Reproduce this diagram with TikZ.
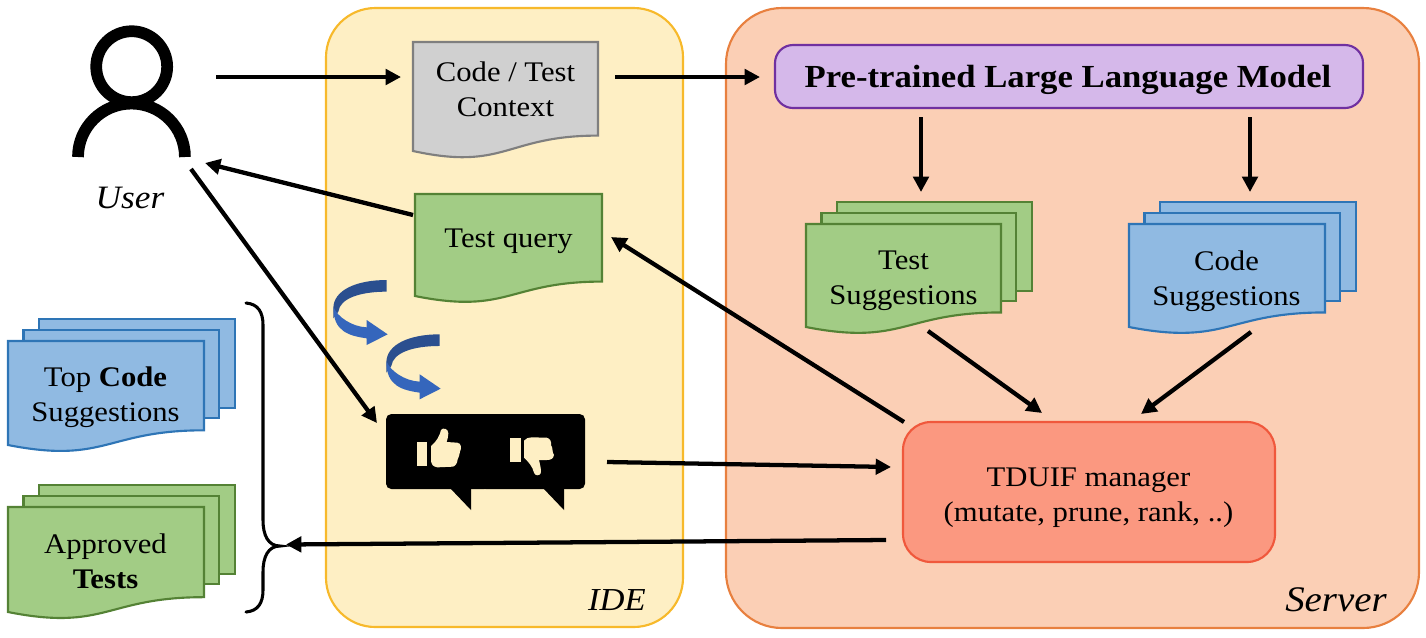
\documentclass[tikz,border=0pt]{standalone}
\usepackage{fontspec}
\setmainfont[FakeStretch=1.08]{Liberation Serif}
\usetikzlibrary{arrows.meta}
\definecolor{idefill}{HTML}{FEEFC4}
\definecolor{ideline}{HTML}{F7B92B}
\definecolor{srvfill}{HTML}{FBCFB5}
\definecolor{srvline}{HTML}{E8803F}
\definecolor{llmfill}{HTML}{D5B8EA}
\definecolor{llmline}{HTML}{7030A0}
\definecolor{mgrfill}{HTML}{FB9880}
\definecolor{mgrline}{HTML}{F0583C}
\definecolor{grnfill}{HTML}{A2CC85}
\definecolor{grnline}{HTML}{548235}
\definecolor{blufill}{HTML}{90BAE2}
\definecolor{bluline}{HTML}{2E75B6}
\definecolor{gryfill}{HTML}{D0D0D0}
\definecolor{gryline}{HTML}{7F7F7F}
\definecolor{arrdark}{HTML}{2B4F8F}
\definecolor{arrlight}{HTML}{3566BC}
\tikzset{
  x=0.75pt,y=-0.75pt,
  txt/.style={font=\fontsize{21.3pt}{26.25pt}\selectfont,align=center,inner sep=0pt,text=black},
  ital/.style={font=\fontsize{27pt}{30pt}\selectfont\itshape,inner sep=0pt,text=black},
  arr/.style={draw=black,line width=3.2pt,-{Triangle[length=11.5pt,width=11.5pt]}},
  hit/.style={inner sep=0pt,outer sep=0pt},
  greendoc/.style={fill=grnfill,draw=grnline},
  bluedoc/.style={fill=blufill,draw=bluline},
  greydoc/.style={fill=gryfill,draw=gryline},
  docline/.style={line width=1.6pt,line join=miter},
}
% #1 style, #2 x1, #3 y1, #4 x2, #5 y2 (lowest edge of the left side)
\newcommand\docpath[5]{%
  \pgfmathsetmacro\wdd{#4-#2}\pgfmathsetmacro\hgg{(#5-#3)/0.934}%
  \path[#1,docline] (#2,#3) -- (#4,#3) -- (#4,#3+0.802*\hgg)
    .. controls (#2+0.5*\wdd,#3+0.802*\hgg) and (#2+0.5*\wdd,#3+1.107*\hgg) .. (#2,#5) -- cycle;}
% a stack of three documents
\newcommand\docstack[5]{%
  \path[#1,docline] (#2+31,#3-22) rectangle (#4+31,#3+67);
  \path[#1,docline] (#2+15.5,#3-11) rectangle (#4+15,#3+77);
  \docpath{#1}{#2}{#3}{#4}{#5}}
% named frame without text that connectors refer to
\newcommand\framenode[5]{%
  \pgfmathsetmacro\cxx{(#2+#4)/2}\pgfmathsetmacro\cyy{(#3+#5)/2}%
  \pgfmathsetlengthmacro\wdd{(#4-#2)*0.75pt}\pgfmathsetlengthmacro\hgg{(#5-#3)*0.75pt}%
  \node[hit,minimum width=\wdd,minimum height=\hgg] (#1) at (\cxx,\cyy) {};}
\newcommand\curvedarrow[2]{%
  \begin{scope}[shift={(#1,#2)},x=0.25pt,y=-0.25pt]
    \fill[arrdark] (200,30) .. controls (110,30) and (40,60) .. (40,115) -- (40,145) -- (55,125)
      .. controls (60,85) and (120,65) .. (200,65) -- cycle;
    \fill[arrlight] (41,112) .. controls (52,140) and (95,170) .. (140,172) -- (140,150) -- (203,193)
      -- (140,225) -- (140,205) .. controls (90,198) and (38,185) .. (41,112) -- cycle;
  \end{scope}}
\begin{document}
\begin{tikzpicture}
\useasboundingbox (0,0) rectangle (1426,637);
% containers
\node[hit,draw=ideline,fill=idefill,line width=1.6pt,rounded corners=37pt,minimum width=267.75pt,minimum height=464.25pt] (ide) at (504.5,317.5) {};
\node[hit,draw=srvline,fill=srvfill,line width=1.6pt,rounded corners=42pt,minimum width=519.75pt,minimum height=465pt] (server) at (1072.5,318) {};
\node[ital,font=\fontsize{24pt}{30pt}\selectfont\itshape] (idelabel) at (617,600) {IDE};
\node[ital] (serverlabel) at (1336,600) {Server};
% person
\framenode{person}{72}{26}{191}{157}
\draw[line width=8.8pt] (131.7,66.7) circle[radius=26.6pt];
\draw[line width=8.8pt] (78,157) arc[start angle=180,end angle=0,radius=40.1pt];
\node[ital,font=\fontsize{24.5pt}{30pt}\selectfont\itshape] (user) at (130,198) {User};
% documents
\docpath{greydoc}{413}{42}{598}{151}
\framenode{ctx}{413}{42}{598}{157}
\node[txt] (ctxtext) at (505.5,89) {Code / Test\\Context};
\docpath{greendoc}{415}{194}{602}{296}
\framenode{query}{415}{194}{602}{302}
\node[txt] (querytext) at (508.5,241) {Test query};
\docstack{greendoc}{806}{224}{1001}{327}
\framenode{tests}{806}{202}{1032}{332}
\node[txt] (teststext) at (903.5,281) {Test\\Suggestions};
\docstack{bluedoc}{1129}{224}{1325}{327}
\framenode{codes}{1129}{202}{1356}{332}
\node[txt] (codestext) at (1226.5,281) {Code\\Suggestions};
\docstack{bluedoc}{8}{341}{204}{445}
\framenode{topcode}{8}{319}{235}{450}
\node[txt] (topcodetext) at (105.5,397) {Top \textbf{Code}\\Suggestions};
\docstack{greendoc}{8}{507}{204}{612}
\framenode{approved}{8}{485}{235}{617}
\node[txt] (approvedtext) at (105.5,561) {Approved\\\textbf{Tests}};
% model and manager
\node[hit,draw=llmline,fill=llmfill,line width=1.6pt,rounded corners=13.5pt,minimum width=441pt,minimum height=47.25pt] (llm) at (1069,76.5) {};
\node[font=\fontsize{24.1pt}{26pt}\selectfont\bfseries,inner sep=0pt] (llmtext) at (1068,80) {Pre-trained Large Language Model};
\node[hit,draw=mgrline,fill=mgrfill,line width=1.6pt,rounded corners=21pt,minimum width=279pt,minimum height=105pt] (mgr) at (1089,492) {};
\node[txt] (mgrtext) at (1088.5,498) {TDUIF manager\\(mutate, prune, rank, ..)};
% feedback bubbles
\framenode{thumbs}{386}{414}{585}{510}
\fill[black,rounded corners=4pt] (386,414) rectangle (490,489);
\fill[black,rounded corners=4pt] (480,414) rectangle (585,489);
\fill[black] (450,488) -- (471,488) -- (471,510) -- cycle;
\fill[black] (543,488) -- (564,488) -- (564,510) -- cycle;
\begin{scope}[shift={(320,270)},x=0.25pt,y=-0.25pt]
  \fill[idefill] (290,517) rectangle (322,587);
  \fill[idefill] (333,528) .. controls (350,515) and (360,495) .. (363,480)
    .. controls (368,472) and (385,475) .. (385,490) .. controls (385,500) and (382,508) .. (380,516)
    -- (412,518) .. controls (425,520) and (425,535) .. (420,545) .. controls (420,555) and (415,560) .. (413,568)
    .. controls (412,580) and (405,590) .. (398,590) -- (352,592) .. controls (340,590) and (333,583) .. (333,575) -- cycle;
  \fill[idefill] (570,505) rectangle (602,575);
  \fill[idefill] (612,512) .. controls (618,505) and (625,502) .. (635,502) -- (680,503)
    .. controls (690,505) and (695,515) .. (693,525) .. controls (700,535) and (695,545) .. (702,555)
    .. controls (700,568) and (690,570) .. (680,570) -- (657,570) .. controls (660,585) and (665,600) .. (662,610)
    .. controls (658,618) and (645,618) .. (642,608) .. controls (638,590) and (625,575) .. (612,563) -- cycle;
\end{scope}
\curvedarrow{320}{270}
\curvedarrow{373}{324.3}
% brace
\framenode{results}{246}{303}{280}{612}
\draw[line width=2.3pt,line cap=round] (246,303) .. controls (258,304) and (263,312) .. (263,325) -- (263,520)
  .. controls (263,535) and (268,546) .. (280,546) .. controls (268,546) and (263,557) .. (263,572) -- (263,590)
  .. controls (263,603) and (258,611) .. (246,612);
% connectors
\draw[arr] ([shift={(25,-14.5)}]person.east) -- ([shift={(-12,-22.5)}]ctx.west);
\draw[arr] ([shift={(17,-22.5)}]ctx.east) -- ([shift={(-15,0.5)}]llm.west);
\draw[arr] ([shift={(-148,9)}]llm.south) -- ([shift={(2,-10)}]tests.north);
\draw[arr] ([shift={(181,9)}]llm.south) -- ([shift={(7.5,-10)}]codes.north);
\draw[arr] ([shift={(9,-1)}]tests.south) -- ([shift={(-47,-9)}]mgr.north);
\draw[arr] ([shift={(8.5,0)}]codes.south) -- ([shift={(52,-8)}]mgr.north);
\draw[arr] ([shift={(1,-70)}]mgr.west) -- ([shift={(9,-11)}]query.east);
\draw[arr] ([shift={(-2,-33)}]query.west) -- ([shift={(14,6)}]person.south east);
\draw[arr] ([shift={(0,12)}]person.south east) -- ([shift={(-9,-39)}]thumbs.west);
\draw[arr] ([shift={(22,0)}]thumbs.east) -- ([shift={(-12,-25)}]mgr.west);
\draw[arr] ([shift={(-17,48)}]mgr.west) -- ([shift={(6,87)}]results.east);
\end{tikzpicture}
\end{document}
